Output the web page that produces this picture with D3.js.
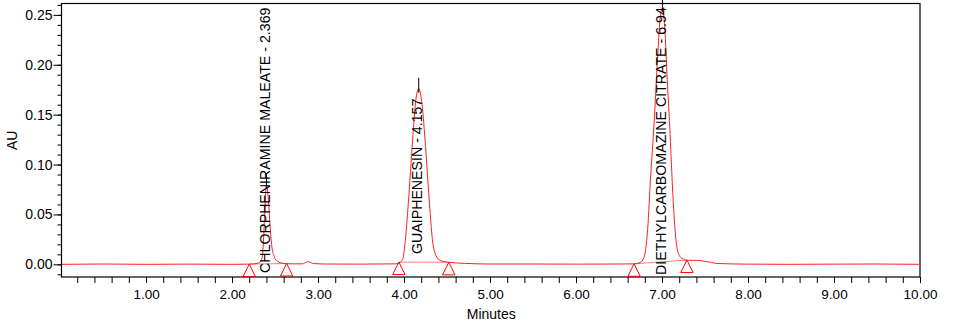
<!DOCTYPE html>
<html><head><meta charset="utf-8">
<script src="https://cdn.jsdelivr.net/npm/d3@7"></script>
<style>
body{margin:0;background:#fff}
svg{display:block}
text{font-family:"Liberation Sans",Arial,sans-serif;fill:#000}
</style>
</head><body>
<svg id="chart" width="955" height="325"></svg>
<script>
// ---- data ----
const times = [0.017,0.5,1.0,1.5,2.0,2.2,2.30,2.34,2.36,2.38,2.40,2.42,2.44,2.46,2.49,2.53,2.60,2.70,2.82,2.88,2.95,3.1,3.5,3.9,3.98,4.01,4.05,4.10,4.135,4.171,4.21,4.25,4.296,4.33,4.37,4.42,4.52,4.7,5.0,5.5,6.0,6.5,6.68,6.75,6.79,6.81,6.833,6.869,6.907,6.944,6.979,7.005,7.032,7.061,7.094,7.125,7.154,7.183,7.23,7.30,7.40,7.5,7.65,8.0,8.5,9.0,9.5,10.0];
const absorbance = [0,0.0003,0,0.0002,0,0.0002,0.001,0.004,0.015,0.05,0.080,0.068,0.042,0.02,0.008,0.003,0.001,0.0005,0.0005,0.0027,0.0008,0.0003,0.0002,0.0005,0.004,0.02,0.061,0.125,0.163,0.176,0.16,0.118,0.061,0.025,0.009,0.004,0.002,0.001,0.0003,0.0003,0.0002,0.0003,0.0005,0.002,0.007,0.015,0.035,0.09,0.14,0.2,0.247,0.257,0.237,0.185,0.13,0.072,0.032,0.013,0.006,0.004,0.004,0.003,0.0008,0.0002,0,0.0002,0.0003,0];

const peakNames = ["CHLORPHENIRAMINE MALEATE","GUAIPHENESIN","DIETHYLCARBOMAZINE CITRATE"];
const peakRT = ["2.369","4.157","6.94"];
const peakApexTime = [2.40,4.171,7.005];
const peakApexAU = [0.080,0.176,0.257];
const peakStart = [2.20,3.94,6.675];
const peakEnd = [2.635,4.52,7.29];

const xTicks = [1,2,3,4,5,6,7,8,9,10];
const xTickLabels = ["1.00","2.00","3.00","4.00","5.00","6.00","7.00","8.00","9.00","10.00"];
const yTicks = [0,0.05,0.10,0.15,0.20,0.25];
const yTickLabels = ["0.00","0.05","0.10","0.15","0.20","0.25"];
const xLabel = "Minutes";
const yLabel = "AU";

// ---- layout ----
const L = 61.5, R = 920, T = 3.5, B = 277;
const svg = d3.select("#chart");
const x = d3.scaleLinear().domain([0.017,10]).range([L,R]);
const y = d3.scaleLinear().domain([-0.0127,0.2614]).range([B,T]);

// frame
svg.append("rect").attr("x",L).attr("y",T).attr("width",R-L).attr("height",B-T)
  .attr("fill","none").attr("stroke","#000").attr("stroke-width",1.2);

// x axis minor ticks (0.2 min)
const xMinor = d3.range(0.2,10.001,0.2);
const gx = svg.append("g").attr("transform",`translate(0,${B})`)
  .call(d3.axisBottom(x).tickValues(xMinor).tickSize(6).tickFormat(""));
gx.select(".domain").remove();
gx.selectAll("line").attr("stroke","#000");
const gxl = svg.append("g").attr("transform",`translate(0,${B})`)
  .call(d3.axisBottom(x).tickValues(xTicks).tickSize(0).tickPadding(12.5)
        .tickFormat((d,i)=>xTickLabels[i]));
gxl.select(".domain").remove();
gxl.selectAll("text").attr("font-size","13.5px").attr("font-family",null).attr("fill","#000");

// y axis
const yMinor = d3.range(-0.01,0.2605,0.01);
const gy = svg.append("g").attr("transform",`translate(${L},0)`)
  .call(d3.axisLeft(y).tickValues(yMinor).tickSize(4).tickFormat(""));
gy.select(".domain").remove();
gy.selectAll("line").attr("stroke","#000");
const gyl = svg.append("g").attr("transform",`translate(${L},0)`)
  .call(d3.axisLeft(y).tickValues(yTicks).tickSize(8).tickPadding(1)
        .tickFormat((d,i)=>yTickLabels[i]));
gyl.select(".domain").remove();
gyl.selectAll("line").attr("stroke","#000");
gyl.selectAll("text").attr("font-size","14px").attr("font-family",null).attr("fill","#000");

// axis titles
svg.append("text").attr("x",(L+R)/2 + 0.5).attr("y",318.5).attr("text-anchor","middle")
  .attr("font-size","14px").text(xLabel);
svg.append("text").attr("transform",`translate(16.5,${(T+B)/2}) rotate(-90)`)
  .attr("text-anchor","middle").attr("font-size","14px").text(yLabel);

// trace
const pts = times.map((t,i)=>[t,absorbance[i]]);
const line = d3.line().x(d=>x(d[0])).y(d=>y(d[1])).curve(d3.curveMonotoneX);
svg.append("clipPath").attr("id","cp").append("rect")
  .attr("x",L).attr("y",T).attr("width",R-L).attr("height",B-T);

// integration baselines
const interp = t => {
  const i = d3.bisectLeft(times,t);
  if (i<=0) return absorbance[0];
  const t0=times[i-1],t1=times[i];
  return absorbance[i-1]+(absorbance[i]-absorbance[i-1])*(t-t0)/(t1-t0);
};
peakStart.forEach((s,i)=>{
  svg.append("line").attr("x1",x(s)).attr("y1",y(interp(s)))
    .attr("x2",x(peakEnd[i])).attr("y2",y(interp(peakEnd[i])))
    .attr("stroke","#ff8080").attr("stroke-width",1);
});

svg.append("path").attr("d",line(pts)).attr("fill","none")
  .attr("stroke","#ff2020").attr("stroke-width",1).attr("clip-path","url(#cp)");

// peak markers (triangles)
[...peakStart,...peakEnd].forEach(t=>{
  const px = x(t), py = y(interp(t));
  svg.append("path").attr("d","M0,0L-6.2,12.5L6.2,12.5Z")
    .attr("transform",`translate(${px},${py})`)
    .attr("fill","none").attr("stroke","#ff0000").attr("stroke-width",1);
});

// apex tick lines
peakApexTime.forEach((t,i)=>{
  svg.append("line").attr("x1",x(t)).attr("x2",x(t))
    .attr("y1",y(peakApexAU[i]+0.011)).attr("y2",y(peakApexAU[i]-0.004))
    .attr("stroke","#000").attr("stroke-width",1);
});

// peak labels
const labelBottom = [273, 254, 275];
peakNames.forEach((n,i)=>{
  svg.append("text")
    .attr("transform",`translate(${x(peakApexTime[i])+3.5},${labelBottom[i]}) rotate(-90)`)
    .attr("font-size","14.2px").text(`${n} - ${peakRT[i]}`);
});
</script>
</body></html>
